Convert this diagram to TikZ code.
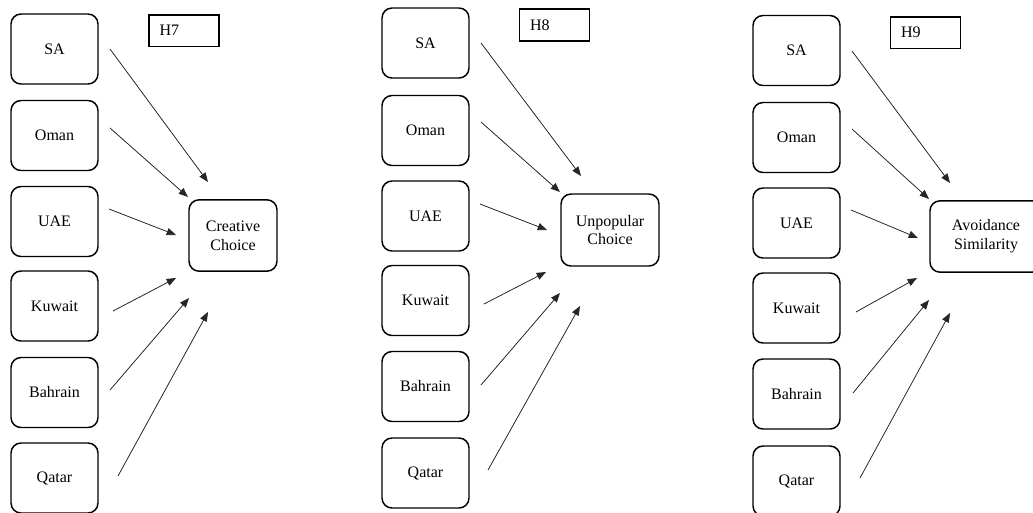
\documentclass[tikz,border=0pt]{standalone}
\usepackage{fontspec}
\setmainfont{Liberation Serif}
\usetikzlibrary{arrows.meta}
\begin{document}
\begin{tikzpicture}[x=0.75pt,y=-0.75pt,
  cbox/.style={draw, line width=1.1pt, rounded corners=7.5pt, minimum width=65.25pt, minimum height=52.5pt, inner sep=0pt, font=\fontsize{12}{14}\selectfont, align=center},
  obox/.style={cbox, minimum height=53.5pt},
  hbox/.style={draw, line width=1pt, minimum height=23.5pt, inner xsep=8pt, inner ysep=0pt, text width=36.5pt, align=left, font=\fontsize{12}{14}\selectfont},
  arr/.style={-{Triangle[length=7pt,width=5.5pt]}, line width=0.55pt, draw=black!85, fill=black}]
\useasboundingbox (0,0) rectangle (1033,512);

% ---------- Panel H7 ----------
\node[cbox] (sa1) at (54.5,49) {SA};
\node[cbox] (om1) at (54.5,135.5) {Oman};
\node[cbox] (ua1) at (54.5,221.5) {UAE};
\node[cbox] (ku1) at (54.5,306) {Kuwait};
\node[cbox] (ba1) at (54.5,392.5) {Bahrain};
\node[cbox] (qa1) at (54.5,478) {Qatar};
\node[obox, minimum width=66pt] (out1) at (233,235.5) {Creative\\Choice};
\node[hbox] (h1) at (184,30.5) {H7};
\coordinate (sa1s) at (110,49);  \coordinate (sa1e) at (208,182);
\coordinate (om1s) at (110,128); \coordinate (om1e) at (188,197);
\coordinate (ua1s) at (109,209); \coordinate (ua1e) at (176,235);
\coordinate (ku1s) at (113,311); \coordinate (ku1e) at (176,278);
\coordinate (ba1s) at (110,390); \coordinate (ba1e) at (189,298);
\coordinate (qa1s) at (118,476); \coordinate (qa1e) at (208,312);
\foreach \n in {sa1,om1,ua1,ku1,ba1,qa1} \draw[arr] (\n s) -- (\n e);

% ---------- Panel H8 ----------
\node[cbox] (sa2) at (425.5,43) {SA};
\node[cbox] (om2) at (425.5,130.5) {Oman};
\node[cbox] (ua2) at (425.5,216) {UAE};
\node[cbox] (ku2) at (425.5,300.5) {Kuwait};
\node[cbox] (ba2) at (425.5,386.5) {Bahrain};
\node[cbox] (qa2) at (425.5,473) {Qatar};
\node[obox, minimum width=73.5pt, minimum height=54pt] (out2) at (610,230) {Unpopular\\Choice};
\node[hbox, minimum height=24pt] (h2) at (554.5,25) {H8};
\coordinate (sa2s) at (481,43);  \coordinate (sa2e) at (581,176);
\coordinate (om2s) at (481,122); \coordinate (om2e) at (560,192);
\coordinate (ua2s) at (480,204); \coordinate (ua2e) at (547,230);
\coordinate (ku2s) at (484,304); \coordinate (ku2e) at (546,272);
\coordinate (ba2s) at (481,385); \coordinate (ba2e) at (560,293);
\coordinate (qa2s) at (488,470); \coordinate (qa2e) at (580,306);
\foreach \n in {sa2,om2,ua2,ku2,ba2,qa2} \draw[arr] (\n s) -- (\n e);

% ---------- Panel H9 ----------
\node[cbox] (sa3) at (796.5,50.5) {SA};
\node[cbox] (om3) at (796.5,137.5) {Oman};
\node[cbox] (ua3) at (796.5,223) {UAE};
\node[cbox] (ku3) at (796.5,308) {Kuwait};
\node[cbox] (ba3) at (796.5,394) {Bahrain};
\node[cbox] (qa3) at (796.5,481) {Qatar};
\node[obox, minimum width=84pt] (out3) at (986,236.5) {Avoidance\\Similarity};
\node[hbox] (h3) at (925.5,32.5) {H9};
\coordinate (sa3s) at (852,51);  \coordinate (sa3e) at (950,183);
\coordinate (om3s) at (852,129); \coordinate (om3e) at (929,199);
\coordinate (ua3s) at (851,210); \coordinate (ua3e) at (918,238);
\coordinate (ku3s) at (856,312); \coordinate (ku3e) at (917,278);
\coordinate (ba3s) at (853,393); \coordinate (ba3e) at (929,300);
\coordinate (qa3s) at (860,478); \coordinate (qa3e) at (950,313);
\foreach \n in {sa3,om3,ua3,ku3,ba3,qa3} \draw[arr] (\n s) -- (\n e);
\end{tikzpicture}
\end{document}
